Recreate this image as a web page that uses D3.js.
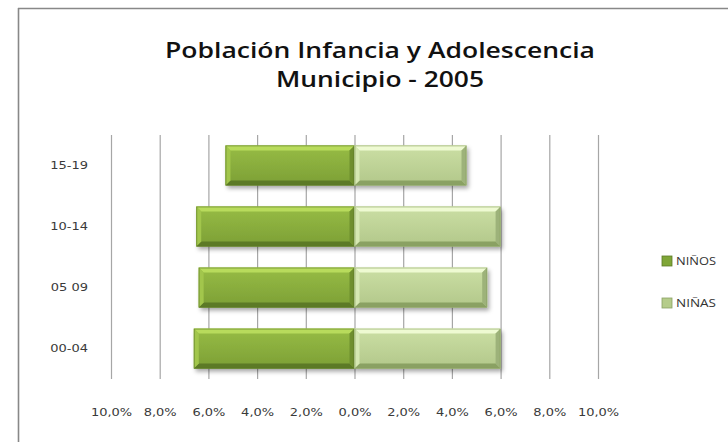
<!DOCTYPE html>
<html>
<head>
<meta charset="utf-8">
<script src="https://cdn.jsdelivr.net/npm/d3@7"></script>
<style>
  body { margin: 0; background: #fff; }
  svg { display: block; }
</style>
</head>
<body>
<svg id="canvas"></svg>
<script>
// Data
let groups = ["15-19", "10-14", "05 09", "00-04"];
let ninos = [5.3, 6.5, 6.4, 6.6];
let ninas = [4.6, 6.0, 5.45, 6.0];
let tickValues = [-10, -8, -6, -4, -2, 0, 2, 4, 6, 8, 10];
let seriesNames = ["NIÑOS", "NIÑAS"];
let titleLines = ["Población Infancia y Adolescencia", "Municipio - 2005"];

let width = 728;
let height = 442;

let plotLeft = 111;
let plotRight = 598;
let plotTop = 135;
let plotBottom = 379;

// the picture is a bit stretched sideways, so small text gets widened too
let stretch = "scale(1.3,1)";

let canvas = d3.select("#canvas").attr("width", width).attr("height", height);

let xScale = d3.scaleLinear().domain([-10, 10]).range([plotLeft, plotRight]);
let yScale = d3.scaleBand().domain(groups).range([plotTop, plotBottom]).paddingInner(0.345).paddingOuter(0.17);

// colours for the bevelled bars
let palettes = {
  ninos: { top: "#b8db5c", left: "#a2c64c", right: "#6f8f2e", bottom: "#5c7a26", g0: "#97bc45", g1: "#7c9f35", legend: "#7fa637" },
  ninas: { top: "#eefad2", left: "#d6e8b2", right: "#9db27a", bottom: "#8aa163", g0: "#cbdfa4", g1: "#b2c78a", legend: "#b5cc8a" }
};

let defs = canvas.append("defs");
Object.keys(palettes).forEach((k) => {
  let p = palettes[k];
  let grad = defs.append("linearGradient").attr("id", "grad-" + k)
    .attr("x1", 0).attr("y1", 0).attr("x2", 0).attr("y2", 1);
  grad.append("stop").attr("offset", "0%").attr("stop-color", p.g0);
  grad.append("stop").attr("offset", "100%").attr("stop-color", p.g1);
});
let shadow = defs.append("filter").attr("id", "shadow")
  .attr("x", "-10%").attr("y", "-10%").attr("width", "130%").attr("height", "150%");
shadow.append("feDropShadow").attr("dx", 2).attr("dy", 3).attr("stdDeviation", 2.2)
  .attr("flood-color", "#000").attr("flood-opacity", 0.35);

// frame (only top and left edges visible)
canvas.append("line").attr("x1", 18).attr("y1", 8.5).attr("x2", width).attr("y2", 8.5)
  .attr("stroke", "#888").attr("stroke-width", 1.6);
canvas.append("line").attr("x1", 18.5).attr("y1", 8).attr("x2", 18.5).attr("y2", height)
  .attr("stroke", "#888").attr("stroke-width", 1.6);

// title
let titleWidths = [430, 208];
canvas.append("g").selectAll("text").data(titleLines).enter().append("text")
  .attr("x", 380)
  .attr("y", (d, i) => 58 + i * 28.5)
  .attr("text-anchor", "middle")
  .attr("font-family", "'Open Sans', sans-serif")
  .attr("font-weight", 600)
  .attr("font-size", 22)
  .attr("fill", "#111")
  .attr("textLength", (d, i) => titleWidths[i])
  .attr("lengthAdjust", "spacingAndGlyphs")
  .text((d) => d);

// grid lines
let grid = d3.axisBottom(xScale).tickValues(tickValues).tickSize(-(plotBottom - plotTop)).tickFormat("");
let gridG = canvas.append("g").attr("transform", "translate(0," + plotBottom + ")").call(grid);
gridG.select(".domain").remove();
gridG.selectAll("line").attr("stroke", "#a6a6a6").attr("stroke-width", 1.2);

// x labels
let xAxis = d3.axisBottom(xScale).tickValues(tickValues).tickSize(0)
  .tickFormat((d) => Math.abs(d).toFixed(1).replace(".", ",") + "%");
let xG = canvas.append("g").attr("transform", "translate(0," + (plotBottom + 27) + ")").call(xAxis);
xG.select(".domain").remove();
xG.selectAll("text").attr("font-family", "'DejaVu Sans', sans-serif").attr("font-size", 10)
  .attr("fill", "#3a3a3a").attr("transform", stretch);

// y labels
let yAxis = d3.axisLeft(yScale).tickSize(0);
let yG = canvas.append("g").attr("transform", "translate(" + 88 + ",0)").call(yAxis);
yG.select(".domain").remove();
yG.selectAll("text").attr("font-family", "'DejaVu Sans', sans-serif").attr("font-size", 10)
  .attr("fill", "#3a3a3a").attr("text-anchor", "end").attr("x", 0).attr("transform", stretch);

// bars
let bars = [];
groups.forEach((g, i) => {
  bars.push({ group: g, key: "ninos", x0: xScale(-ninos[i]), x1: xScale(0) });
  bars.push({ group: g, key: "ninas", x0: xScale(0), x1: xScale(ninas[i]) });
});

let b = 5;
let barG = canvas.append("g").selectAll("g").data(bars).enter().append("g");
barG.each(function (d) {
  let g = d3.select(this);
  let p = palettes[d.key];
  let y0 = yScale(d.group);
  let y1 = y0 + yScale.bandwidth();
  let x0 = d.x0, x1 = d.x1;
  g.append("rect").attr("x", x0).attr("y", y0).attr("width", x1 - x0).attr("height", y1 - y0)
    .attr("fill", "url(#grad-" + d.key + ")").attr("filter", "url(#shadow)");
  let poly = (pts, fill) => g.append("polygon").attr("points", pts.map((q) => q.join(",")).join(" ")).attr("fill", fill);
  poly([[x0, y0], [x1, y0], [x1 - b, y0 + b], [x0 + b, y0 + b]], p.top);
  poly([[x0, y1], [x1, y1], [x1 - b, y1 - b], [x0 + b, y1 - b]], p.bottom);
  poly([[x0, y0], [x0 + b, y0 + b], [x0 + b, y1 - b], [x0, y1]], p.left);
  poly([[x1, y0], [x1 - b, y0 + b], [x1 - b, y1 - b], [x1, y1]], p.right);
  g.append("rect").attr("x", x0 + 0.5).attr("y", y0 + 0.5).attr("width", x1 - x0 - 1).attr("height", y1 - y0 - 1)
    .attr("fill", "none").attr("stroke", p.bottom).attr("stroke-opacity", 0.6).attr("stroke-width", 1);
});

// legend
let legend = canvas.append("g").selectAll("g").data(seriesNames).enter().append("g")
  .attr("transform", (d, i) => "translate(662," + (261 + i * 42) + ")");
legend.append("rect").attr("x", 0).attr("y", -5).attr("width", 10).attr("height", 10)
  .attr("fill", (d, i) => palettes[i === 0 ? "ninos" : "ninas"].legend)
  .attr("stroke", (d, i) => palettes[i === 0 ? "ninos" : "ninas"].bottom).attr("stroke-width", 0.8);
legend.append("text").attr("x", 14).attr("y", 4)
  .attr("font-family", "'Open Sans', sans-serif").attr("font-size", 10.5).attr("fill", "#333")
  .attr("textLength", 40).attr("lengthAdjust", "spacingAndGlyphs")
  .text((d) => d);
</script>
</body>
</html>
